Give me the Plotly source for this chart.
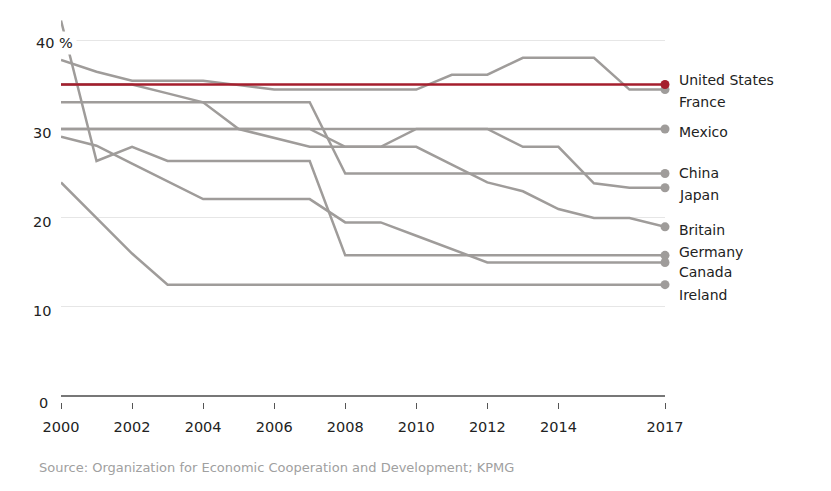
import plotly.graph_objects as go

# ---- data ----
years = list(range(2000, 2018))

united_states = [35] * 18
france = [37.76, 36.43, 35.43, 35.43, 35.43, 34.93, 34.43, 34.43, 34.43, 34.43,
          34.43, 36.1, 36.1, 38.0, 38.0, 38.0, 34.43, 34.43]
mexico = [35, 35, 35, 34, 33, 30, 29, 28, 28, 28, 30, 30, 30, 30, 30, 30, 30, 30]
china = [33, 33, 33, 33, 33, 33, 33, 33, 25, 25, 25, 25, 25, 25, 25, 25, 25, 25]
japan = [30, 30, 30, 30, 30, 30, 30, 30, 30, 30, 30, 30, 30, 28.0, 28.0, 23.9, 23.4, 23.4]
britain = [30, 30, 30, 30, 30, 30, 30, 30, 28, 28, 28, 26, 24, 23, 21, 20, 20, 19]
germany = [42.2, 26.4, 28.0, 26.4, 26.4, 26.4, 26.4, 26.4, 15.8, 15.8, 15.8, 15.8,
           15.8, 15.8, 15.8, 15.8, 15.8, 15.8]
canada = [29.12, 28.12, 26.12, 24.12, 22.12, 22.12, 22.12, 22.12, 19.5, 19.5, 18.0,
          16.5, 15.0, 15.0, 15.0, 15.0, 15.0, 15.0]
ireland = [24, 20, 16, 12.5, 12.5, 12.5, 12.5, 12.5, 12.5, 12.5, 12.5, 12.5, 12.5,
           12.5, 12.5, 12.5, 12.5, 12.5]

series_names = ["France", "Mexico", "China", "Japan", "Britain", "Germany",
                "Canada", "Ireland", "United States"]
series_values = [france, mexico, china, japan, britain, germany, canada, ireland,
                 united_states]

x_tickvals = [2000, 2002, 2004, 2006, 2008, 2010, 2012, 2014, 2017]
x_ticktext = [str(v) for v in x_tickvals]
y_tickvals = [0, 10, 20, 30, 40]
y_ticktext = ["0", "10", "20", "30", "40 %"]

source_text = "Source: Organization for Economic Cooperation and Development; KPMG"

# ---- styling ----
GRAY = "#9f9c9a"
RED = "#a51e2d"
FONT = "DejaVu Sans"
label_nudge_px = {"United States": 5, "France": -12, "Mexico": -3, "China": 0,
                  "Japan": -7, "Britain": -3, "Germany": 3, "Canada": -10,
                  "Ireland": -10}

fig = go.Figure()
for name, vals in zip(series_names, series_values):
    color = RED if name == "United States" else GRAY
    fig.add_trace(go.Scatter(x=years, y=vals, mode="lines",
                             line=dict(color=color, width=2.5),
                             hoverinfo="skip", showlegend=False))
    fig.add_trace(go.Scatter(x=[years[-1]], y=[vals[-1]], mode="markers",
                             marker=dict(color=color, size=9),
                             cliponaxis=False, hoverinfo="skip", showlegend=False))
    fig.add_annotation(x=years[-1], y=vals[-1], xref="x", yref="y",
                       text=name, showarrow=False, xanchor="left", yanchor="middle",
                       xshift=12, yshift=label_nudge_px[name],
                       font=dict(family=FONT, size=14, color="#222"))

# y tick labels as annotations (left side, as in the original)
for v, t in zip(y_tickvals, y_ticktext):
    if t.endswith("%"):
        fig.add_annotation(x=0, y=v, xref="paper", yref="y", text=t,
                           showarrow=False, xanchor="left", yanchor="middle",
                           xshift=-29, yshift=-3, bgcolor="white", borderpad=3,
                           font=dict(family=FONT, size=14.5, color="#222"))
    else:
        fig.add_annotation(x=0, y=v, xref="paper", yref="y", text=t,
                           showarrow=False, xanchor="right", yanchor="middle",
                           xshift=-8 if v else -11, yshift=-4 if v else -7,
                           font=dict(family=FONT, size=14.5, color="#222"))

fig.add_annotation(x=0, y=-0.166, xref="paper", yref="paper", text=source_text,
                   showarrow=False, xanchor="left", yanchor="middle", xshift=-24,
                   font=dict(family=FONT, size=13, color="#a0a0a0"))

fig.update_layout(
    width=823, height=483,
    margin=dict(l=53, r=166, t=0, b=89),
    paper_bgcolor="white", plot_bgcolor="white",
    xaxis=dict(range=[2000, 2017], tickvals=x_tickvals, ticktext=x_ticktext,
               ticks="outside", ticklen=6, tickwidth=1, tickcolor="#555",
               ticklabelstandoff=6,
               showgrid=False, showline=False, zeroline=False,
               tickfont=dict(family=FONT, size=14.5, color="#222")),
    yaxis=dict(range=[-0.686, 43.6], tickvals=y_tickvals[1:], showticklabels=False,
               showgrid=True, gridcolor="#e6e6e6", gridwidth=1,
               zeroline=True, zerolinecolor="#777", zerolinewidth=2,
               showline=False, ticks=""),
)

fig.write_html("out.html")
